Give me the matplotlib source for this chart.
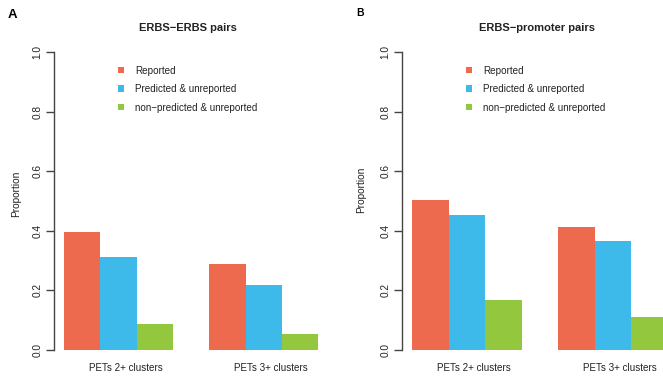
import matplotlib
matplotlib.use("Agg")
import matplotlib.pyplot as plt
from matplotlib.patches import Patch
import numpy as np

plt.rcParams['font.family'] = ['Liberation Sans', 'DejaVu Sans']

series = ["Reported", "Predicted & unreported", "non\u2212predicted & unreported"]
colors = ["#EE6A4F", "#3DB9EA", "#93C73D"]
groups = ["PETs 2+ clusters", "PETs 3+ clusters"]
titles = ["ERBS\u2212ERBS pairs", "ERBS\u2212promoter pairs"]
panel_tags = ["A", "B"]
# values[panel][series][group]
erbs_erbs = [[0.396, 0.290], [0.311, 0.217], [0.088, 0.054]]
erbs_prom = [[0.502, 0.413], [0.452, 0.366], [0.167, 0.110]]
values = [erbs_erbs, erbs_prom]
yticks = [0.0, 0.2, 0.4, 0.6, 0.8, 1.0]

W, H = 663, 377
fig = plt.figure(figsize=(W / 100, H / 100), dpi=100)

def fx(px):
    return px / W

def fy(py):
    return 1 - py / H

unit = 298.0          # px per y unit
y0 = 350.0            # pixel of y=0
bottom_px = y0 + 0.04 * unit
top_px = y0 - 1.04 * unit

axes_left = [54, 402]
bar_px = [36.3, 36.5]
tag_pos = [(8, 15, 9.5), (356, 13, 7.5)]
ylabel_pos = [(16, 194), (361, 190)]
txt = "#222222"

for p in range(2):
    xl = axes_left[p]
    width_px = 7.56 * bar_px[p]
    ax = fig.add_axes([fx(xl), fy(bottom_px), width_px / W, (bottom_px - top_px) / H])
    ax.set_xlim(0.72, 8.28)
    ax.set_ylim(-0.04, 1.04)
    nser = len(series)
    for s in range(nser):
        for g in range(len(groups)):
            left = 1 + g * (nser + 1) + s
            ax.bar(left, values[p][s][g], width=1.0, align='edge', color=colors[s],
                   edgecolor='none', linewidth=0)
    centers = [1 + g * (nser + 1) + nser / 2 + 0.2 for g in range(len(groups))]
    ax.set_xticks(centers)
    ax.set_xticklabels(groups, fontsize=7.1, color=txt)
    ax.tick_params(axis='x', length=0, pad=0.5)
    ax.set_yticks(yticks)
    ax.set_yticklabels([f"{v:.1f}" for v in yticks], rotation=90, va='center',
                       fontsize=7.3, color=txt)
    ax.tick_params(axis='y', length=6, width=1.0, color='#444444', pad=2.5)
    for side in ['top', 'right', 'bottom']:
        ax.spines[side].set_visible(False)
    ax.spines['left'].set_bounds(0, 1)
    ax.spines['left'].set_color('#444444')
    ax.spines['left'].set_linewidth(1.0)
    ax.patch.set_alpha(0)
    ax.set_ylabel("Proportion", fontsize=7.3, color=txt, va='center')
    lx, ly = ylabel_pos[p]
    ax.yaxis.set_label_coords(fx(lx), fy(ly), transform=fig.transFigure)
    fig.text(fx(xl + width_px / 2 - 3), fy(28), titles[p], ha='center', va='center',
             fontsize=8, fontweight='bold', color=txt)
    handles = [Patch(facecolor=colors[s], edgecolor='none') for s in range(nser)]
    ax.legend(handles, series, loc='upper left',
              bbox_to_anchor=(fx(xl + 64), fy(65.5)), bbox_transform=fig.transFigure,
              frameon=False, fontsize=7.1, borderpad=0, borderaxespad=0,
              handlelength=0.6, handleheight=0.6, handletextpad=1.1,
              labelspacing=0.87, labelcolor=txt)
    tx, ty, ts = tag_pos[p]
    fig.text(fx(tx), fy(ty), panel_tags[p], ha='left', va='center',
             fontsize=ts, fontweight='bold', color='black')

fig.savefig("out.png", dpi=100)
